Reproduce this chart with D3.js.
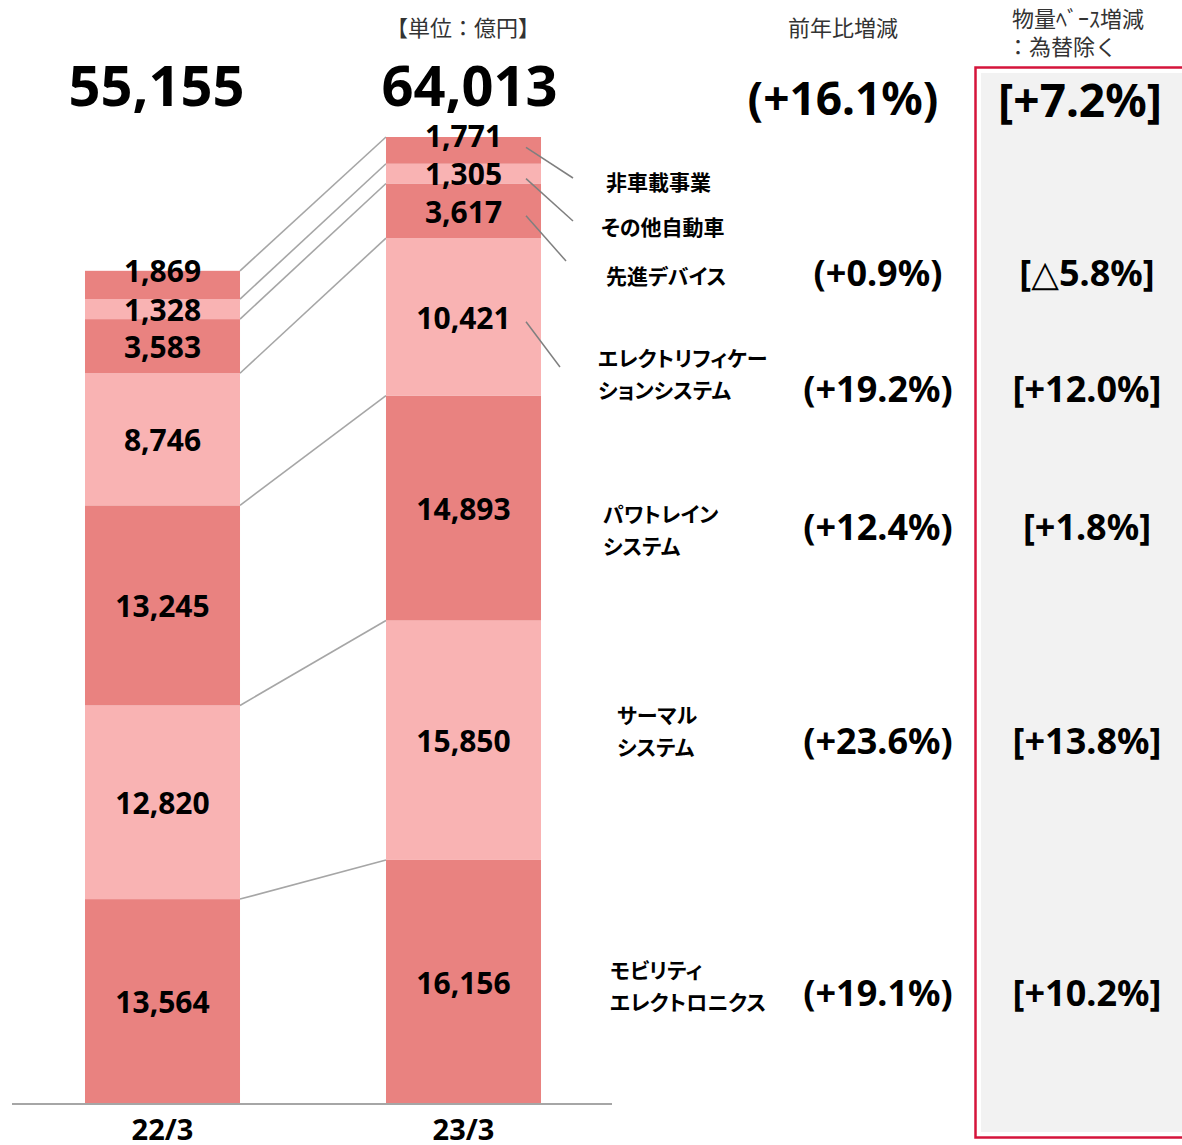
<!DOCTYPE html>
<html>
<head>
<meta charset="utf-8">
<script src="https://cdn.jsdelivr.net/npm/d3@7"></script>
<style>
  body { margin: 0; background: #fff; }
  svg { display: block; }
  .num { font-family: "Noto Sans", "DejaVu Sans", sans-serif; font-weight: 700; fill: #000; }
  .jp { font-family: "Noto Sans CJK JP", sans-serif; }
  .palt { font-feature-settings: "palt"; }
</style>
</head>
<body>
<div id="chart"></div>
<script>
// ── Data ─────────────────────────────────────────────────────────────────
const years = ["22/3", "23/3"];
// segments, bottom → top
const segments = [
  "モビリティ\nエレクトロニクス",
  "サーマル\nシステム",
  "パワトレイン\nシステム",
  "エレクトリフィケー\nションシステム",
  "先進デバイス",
  "その他自動車",
  "非車載事業",
];
const fy22 = [13564, 12820, 13245, 8746, 3583, 1328, 1869];
const fy23 = [16156, 15850, 14893, 10421, 3617, 1305, 1771];
const yoyPct = ["(+19.1%)", "(+23.6%)", "(+12.4%)", "(+19.2%)", "(+0.9%)", null, null];
const volumePct = ["[+10.2%]", "[+13.8%]", "[+1.8%]", "[+12.0%]", "[△5.8%]", null, null];
const totalYoy = "(+16.1%)";
const totalVolume = "[+7.2%]";

// ── Layout ───────────────────────────────────────────────────────────────
const W = 1182, H = 1145;
const baseY = 1104, topY = 137;
const colors = ["#E98280", "#F9B3B3"];
// label column positions (x left, y centre of block)
const nameX = [610, 617, 603, 598, 606, 601, 606];
const nameY = [986, 731, 530, 374, 276, 227, 182];
const rowY = [993, 741, 527, 389, 273];
const leaderEnd = [null, null, null, [560, 367], [566, 261], [573, 221], [573, 178]];

const svg = d3.select("#chart").append("svg")
  .attr("width", W).attr("height", H);

// ── Scales ───────────────────────────────────────────────────────────────
const x = d3.scaleBand().domain(years).range([12, 614])
  .paddingInner(0.485).paddingOuter(0.2425);

const values = { "22/3": fy22, "23/3": fy23 };
const totals = years.map((yr) => d3.sum(values[yr]));
const y = d3.scaleLinear().domain([0, d3.max(totals)]).range([baseY, topY]);

const stacked = {};
years.forEach((yr) => {
  let acc = 0;
  stacked[yr] = values[yr].map((v, i) => {
    const s = { i, v, y0: acc, y1: acc + v };
    acc += v;
    return s;
  });
});

// ── Volume column box ────────────────────────────────────────────────────
svg.append("rect").attr("x", 981).attr("y", 73).attr("width", 210).attr("height", 1059)
  .attr("fill", "#F2F2F2");
svg.append("rect").attr("x", 975.5).attr("y", 67.5).attr("width", 220).attr("height", 1070)
  .attr("fill", "none").attr("stroke", "#D5143B").attr("stroke-width", 2.5);

// ── Connector lines between bars ─────────────────────────────────────────
const [a, b] = years;
svg.append("g").selectAll("line")
  .data(d3.range(0, segments.length))
  .join("line")
  .attr("x1", x(a) + x.bandwidth())
  .attr("y1", (i) => y(stacked[a][i].y1))
  .attr("x2", x(b))
  .attr("y2", (i) => y(stacked[b][i].y1))
  .attr("stroke", "#A6A6A6").attr("stroke-width", 1.6);

// ── Bars ─────────────────────────────────────────────────────────────────
years.forEach((yr) => {
  const g = svg.append("g");
  g.selectAll("rect")
    .data(stacked[yr])
    .join("rect")
    .attr("x", x(yr))
    .attr("width", x.bandwidth())
    .attr("y", (d) => y(d.y1))
    .attr("height", (d) => y(d.y0) - y(d.y1))
    .attr("fill", (d) => colors[d.i % 2]);

  g.selectAll("text")
    .data(stacked[yr])
    .join("text")
    .attr("class", "num")
    .attr("x", x(yr) + x.bandwidth() / 2)
    .attr("y", (d) => (y(d.y0) + y(d.y1)) / 2 + (d.i === segments.length - 1 ? -14 : 1))
    .attr("dy", "0.36em")
    .attr("text-anchor", "middle")
    .attr("font-size", 30)
    .text((d) => d3.format(",")(d.v));
});

// ── Totals ───────────────────────────────────────────────────────────────
svg.selectAll(".total")
  .data(years)
  .join("text")
  .attr("class", "num total")
  .attr("x", (yr) => x(yr) + x.bandwidth() / 2 + (yr === a ? -6 : 6))
  .attr("y", 106)
  .attr("text-anchor", "middle")
  .attr("font-size", 56)
  .text((yr, i) => d3.format(",")(totals[i]));

// ── Axis ─────────────────────────────────────────────────────────────────
const axis = svg.append("g")
  .attr("transform", `translate(0,${baseY})`)
  .call(d3.axisBottom(x).tickSize(0).tickPadding(15).tickSizeOuter(0));
axis.select(".domain").attr("stroke", "#A6A6A6").attr("stroke-width", 2)
  .attr("d", "M12,0H612");
axis.selectAll("text")
  .attr("class", "num")
  .attr("font-size", 29)
  .attr("fill", "#000");

// ── Leader lines ─────────────────────────────────────────────────────────
svg.append("g").selectAll("line")
  .data(stacked[b].filter((d) => leaderEnd[d.i]))
  .join("line")
  .attr("x1", x(b) + x.bandwidth() - 15)
  .attr("y1", (d) => (y(d.y0) + y(d.y1)) / 2 + (d.i === segments.length - 1 ? -3 : 5))
  .attr("x2", (d) => leaderEnd[d.i][0])
  .attr("y2", (d) => leaderEnd[d.i][1])
  .attr("stroke", "#7F7F7F").attr("stroke-width", 1.5);

// ── Segment names ────────────────────────────────────────────────────────
segments.forEach((name, i) => {
  const lines = name.split("\n");
  const t = svg.append("text")
    .attr("class", "jp palt")
    .attr("x", nameX[i])
    .attr("y", nameY[i] - (lines.length - 1) * 16)
    .attr("font-size", 21)
    .attr("font-weight", 700)
    .attr("fill", "#000");
  lines.forEach((ln, k) => {
    t.append("tspan").attr("x", nameX[i]).attr("dy", k === 0 ? "0.36em" : 32).text(ln);
  });
});

// ── Percent columns ──────────────────────────────────────────────────────
svg.append("g").selectAll("text")
  .data(yoyPct.filter((d) => d))
  .join("text")
  .attr("class", "num")
  .attr("x", 878)
  .attr("y", (d, i) => rowY[i])
  .attr("dy", "0.36em")
  .attr("text-anchor", "middle")
  .attr("font-size", 36)
  .text((d) => d);

svg.append("g").selectAll("text")
  .data(volumePct.filter((d) => d))
  .join("text")
  .attr("class", "num")
  .attr("x", 1087)
  .attr("y", (d, i) => rowY[i])
  .attr("dy", "0.36em")
  .attr("text-anchor", "middle")
  .attr("font-size", 36)
  .text((d) => d);

svg.append("text").attr("class", "num")
  .attr("x", 843).attr("y", 98).attr("dy", "0.36em")
  .attr("text-anchor", "middle").attr("font-size", 46)
  .text(totalYoy);
svg.append("text").attr("class", "num")
  .attr("x", 1080).attr("y", 100).attr("dy", "0.36em")
  .attr("text-anchor", "middle").attr("font-size", 46)
  .text(totalVolume);

// ── Headers ──────────────────────────────────────────────────────────────
const header = (txt, hx, hy, anchor = "middle") =>
  svg.append("text").attr("class", "jp")
    .attr("x", hx).attr("y", hy).attr("dy", "0.36em")
    .attr("text-anchor", anchor)
    .attr("font-size", 22).attr("fill", "#333")
    .text(txt);

header("【単位：億円】", 463, 28);
header("前年比増減", 843, 28);
header("物量ﾍﾞｰｽ増減", 1078, 19);
header("：為替除く", 1062, 47);
</script>
</body>
</html>
